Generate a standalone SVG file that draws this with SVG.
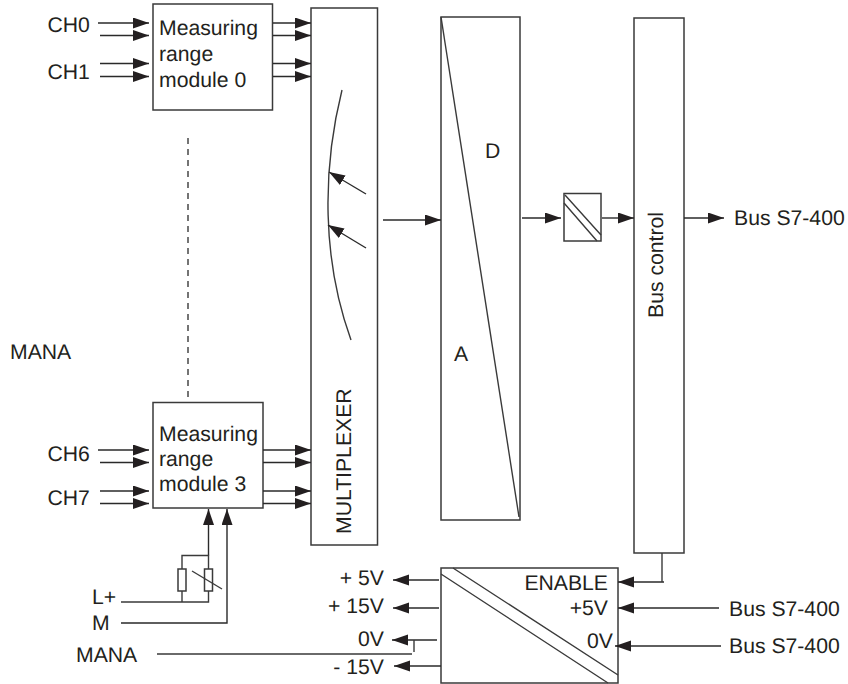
<svg xmlns="http://www.w3.org/2000/svg" width="848" height="684" viewBox="0 0 848 684">
<style>
text{font-family:"Liberation Sans",Arial,sans-serif;font-size:21.2px;fill:#231f20;text-rendering:geometricPrecision}
.b{fill:#fff;stroke:#3a3a3a;stroke-width:1.5}
.l{fill:none;stroke:#3a3a3a;stroke-width:1.4}
.a{fill:none;stroke:#2a2a2a;stroke-width:1.4;marker-end:url(#ah)}
.e{text-anchor:end}
</style>
<defs><marker id="ah" markerUnits="userSpaceOnUse" markerWidth="17" markerHeight="12" refX="16" refY="5.5" orient="auto"><path d="M0,0L16,5.5L0,11Z" fill="#231f20"/></marker></defs>
<rect width="848" height="684" fill="#fff"/>
<g id="mod0"><rect class="b" x="153" y="4" width="119.500" height="106"/><text x="159" y="35">Measuring</text><text x="159" y="60.500">range</text><text x="159" y="86.500">module 0</text></g>
<g id="mod3"><rect class="b" x="153" y="402.500" width="110" height="105.500"/><text x="159" y="440.500">Measuring</text><text x="159" y="466">range</text><text x="159" y="491">module 3</text></g>
<g id="mux"><rect class="b" x="311" y="8" width="66.500" height="537"/><text transform="translate(351,534) rotate(-90)">MULTIPLEXER</text><path class="l" d="M342,90C322,170 322,260 351,340"/></g>
<g id="adc"><rect class="b" x="441" y="17" width="79" height="503"/><path class="l" d="M441,17L519,517"/><text x="485" y="158">D</text><text x="454" y="361">A</text></g>
<g id="conv"><rect class="b" x="564" y="193.500" width="37" height="47.500"/><path class="l" d="M565,195L601,235M564,203L597,241"/></g>
<g id="bus"><rect class="b" x="634" y="18" width="50" height="535"/><text transform="translate(663,318) rotate(-90)">Bus control</text></g>
<g id="psu"><rect class="b" x="441" y="568" width="177" height="115"/><path class="l" d="M441,574L608,683M453,568L618,675"/><text class="e" x="608" y="590">ENABLE</text><text class="e" x="608" y="615">+5V</text><text class="e" x="613" y="648">0V</text></g>
<g id="resistors"><rect class="b" x="178" y="569" width="8" height="22"/><rect class="b" x="204.500" y="569" width="8" height="22"/></g>
<g id="connectors">
<path class="a" d="M98,23H149"/><path class="a" d="M100,35.500H149"/><path class="a" d="M100,63.500H149"/><path class="a" d="M100,76.500H149"/>
<path class="a" d="M273,23H311"/><path class="a" d="M273,35.500H311"/><path class="a" d="M273,63.500H311"/><path class="a" d="M273,76.500H311"/>
<path class="a" d="M98,450H149"/><path class="a" d="M100,462.500H149"/><path class="a" d="M100,491H149"/><path class="a" d="M100,503.500H149"/>
<path class="a" d="M263,450H311"/><path class="a" d="M263,462.500H311"/><path class="a" d="M263,491H311"/><path class="a" d="M263,503.500H311"/>
<path class="l" d="M188,138V400" stroke-dasharray="6 5"/>
<path class="a" d="M366,194L329,172"/><path class="a" d="M366,248L328,225"/>
<path class="a" d="M383,220H441"/><path class="a" d="M522,218H561"/><path class="a" d="M602,218H634"/><path class="a" d="M684,218H724"/>
<path class="a" d="M208.500,555.500V509"/><path class="a" d="M121,623H227V509"/>
<path class="l" d="M121,602H208.500V591M182,602V591M182,569V555.500H208.500V569"/><path class="l" d="M192,571L222,589"/>
<path class="a" d="M439,580H393"/><path class="a" d="M439,608H393"/><path class="a" d="M437,640H392"/><path class="a" d="M441,666H394"/>
<path class="l" d="M157,654H412M414,640V652"/>
<path class="a" d="M664,582H618"/><path class="l" d="M662,553V582"/>
<path class="a" d="M719,608H618"/><path class="a" d="M721,646H615"/>
</g>
<g id="labels">
<text x="47.500" y="31.500">CH0</text><text x="47.500" y="79">CH1</text><text x="47.500" y="460.500">CH6</text><text x="47.500" y="505">CH7</text>
<text x="10" y="359">MANA</text><text x="92" y="604">L+</text><text x="92" y="630">M</text><text x="76" y="662">MANA</text>
<text class="e" x="384" y="585">+ 5V</text><text class="e" x="384" y="613">+ 15V</text><text class="e" x="384" y="646">0V</text><text class="e" x="384" y="674">- 15V</text>
<text x="734" y="225">Bus S7-400</text><text x="729" y="616">Bus S7-400</text><text x="729" y="653">Bus S7-400</text>
</g>
</svg>
